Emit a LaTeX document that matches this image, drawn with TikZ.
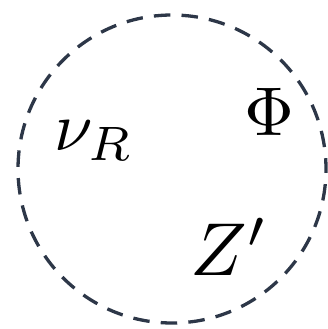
\documentclass[tikz,border=0pt]{standalone}
\usepackage{tikz}
\definecolor{slate}{RGB}{45, 55, 72}

\begin{document}
\begin{tikzpicture}[
    x=1pt, y=-1pt,
    sector/.style={circle, draw=slate, line width=3.3pt, minimum size=308pt,
                   dash pattern=on 16.5pt off 11.2pt, dash phase=5.7pt},
    field/.style={inner sep=0pt, anchor=base west, scale=6.9},
  ]
    \useasboundingbox (0,0) rectangle (327,329);
    \node[sector] (DARK) at (172,169) {};

    \node[field] (NUR) at (53,150) {$\nu_R$};
    \node[field, anchor=base] (PHI) at (269,135) {$\Phi$};
    \node[field, scale=7.5/6.9] (ZP) at (189,275) {$Z'$};
  \end{tikzpicture}
\end{document}
